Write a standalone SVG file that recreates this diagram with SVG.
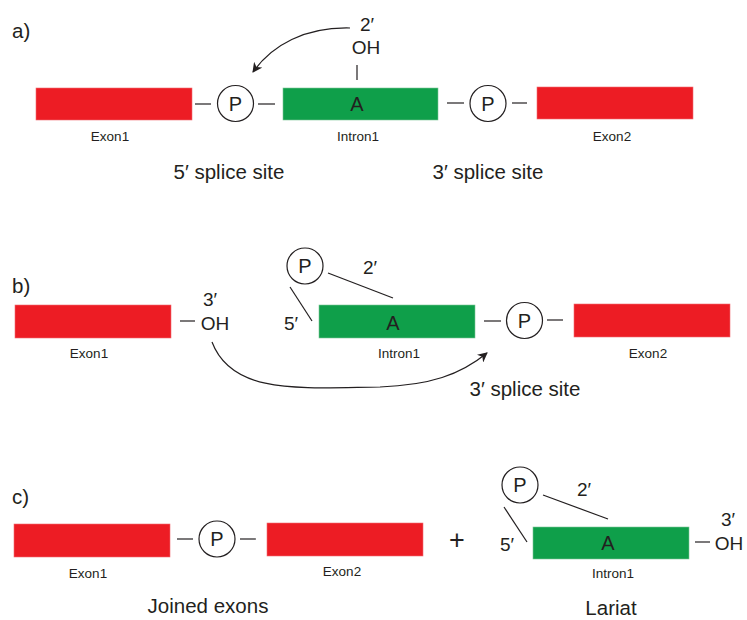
<svg xmlns="http://www.w3.org/2000/svg" width="747" height="620" viewBox="0 0 747 620">
<defs>
<style>
.exon{fill:#ED1C24;stroke:#F26D72;stroke-width:0.6}
.intron{fill:#0F9F4A;stroke:#7CC796;stroke-width:0.6}
.ln{stroke:#231F20;stroke-width:1.2;fill:none}
.pc{fill:#fff;stroke:#231F20;stroke-width:1.2}
.t{font-family:"Liberation Sans","Open Sans",sans-serif;fill:#231F20}
.big{font-size:19px}
.ph{font-size:20.5px}
.pl{font-size:20px}
.sm{font-size:13.5px}
.mid{text-anchor:middle}
</style>
<marker id="ah" viewBox="0 0 10 10" refX="9" refY="5" markerWidth="10" markerHeight="10" orient="auto" markerUnits="userSpaceOnUse">
<path d="M0,0 L10,5 L0,10 L3,5 Z" fill="#231F20"/>
</marker>
</defs>

<!-- Panel a -->
<text class="t ph" x="12" y="38">a)</text>
<g id="a-exon1"><rect class="exon" x="36" y="88" width="156" height="32"/><text class="t sm mid" x="110" y="141">Exon1</text></g>
<g id="a-p1"><circle class="pc" cx="235.5" cy="103.5" r="18"/><text class="t pl mid" x="235.5" y="110.5">P</text></g>
<g id="a-intron1"><rect class="intron" x="283" y="88" width="155" height="32"/><text class="t pl mid" x="357" y="111">A</text><text class="t sm mid" x="358" y="141">Intron1</text></g>
<g id="a-oh"><text class="t big mid" x="367" y="31">2′</text><text class="t big mid" x="366" y="54">OH</text></g>
<g id="a-p2"><circle class="pc" cx="488" cy="103.5" r="18"/><text class="t pl mid" x="488" y="110.5">P</text></g>
<g id="a-exon2"><rect class="exon" x="537" y="87" width="156" height="32"/><text class="t sm mid" x="612" y="141">Exon2</text></g>
<text class="t ph mid" x="229" y="179">5′ splice site</text>
<text class="t ph mid" x="488" y="179">3′ splice site</text>

<!-- Panel b -->
<text class="t ph" x="12" y="293">b)</text>
<g id="b-exon1"><rect class="exon" x="15" y="305" width="156" height="33"/><text class="t sm mid" x="89" y="358">Exon1</text></g>
<g id="b-oh"><text class="t big mid" x="210" y="306">3′</text><text class="t big mid" x="215" y="330">OH</text></g>
<g id="b-p1"><circle class="pc" cx="305" cy="266" r="18"/><text class="t pl mid" x="305" y="273">P</text></g>
<text class="t big mid" x="370" y="274">2′</text>
<text class="t big mid" x="291" y="330">5′</text>
<g id="b-intron1"><rect class="intron" x="319" y="305" width="156" height="33"/><text class="t pl mid" x="393" y="330">A</text><text class="t sm mid" x="399" y="358">Intron1</text></g>
<g id="b-p2"><circle class="pc" cx="524.5" cy="320.5" r="18"/><text class="t pl mid" x="524.5" y="327.5">P</text></g>
<g id="b-exon2"><rect class="exon" x="574" y="304" width="156" height="33"/><text class="t sm mid" x="648" y="358">Exon2</text></g>
<text class="t ph mid" x="525" y="396">3′ splice site</text>

<!-- Panel c -->
<text class="t ph" x="12" y="504">c)</text>
<g id="c-exon1"><rect class="exon" x="14" y="524" width="156" height="33"/><text class="t sm mid" x="88" y="578">Exon1</text></g>
<g id="c-p"><circle class="pc" cx="217" cy="539" r="18"/><text class="t pl mid" x="217" y="546">P</text></g>
<g id="c-exon2"><rect class="exon" x="267" y="523" width="156" height="33"/><text class="t sm mid" x="342" y="576">Exon2</text></g>
<text class="t ph mid" x="208" y="613">Joined exons</text>
<text class="t mid" x="457" y="549" style="font-size:27px">+</text>
<g id="c-p2"><circle class="pc" cx="520" cy="485" r="18"/><text class="t pl mid" x="520" y="492">P</text></g>
<text class="t big mid" x="584" y="496">2′</text>
<text class="t big mid" x="507" y="551">5′</text>
<g id="c-intron1"><rect class="intron" x="533" y="527" width="156" height="32"/><text class="t pl mid" x="608" y="550">A</text><text class="t sm mid" x="613" y="578">Intron1</text></g>
<g id="c-oh"><text class="t big mid" x="728" y="526">3′</text><text class="t big mid" x="729" y="550">OH</text></g>
<text class="t ph mid" x="611" y="615">Lariat</text>

<!-- Connectors -->
<g id="connectors">
<line class="ln" x1="195" y1="104" x2="211" y2="104"/>
<line class="ln" x1="258" y1="104" x2="275" y2="104"/>
<line class="ln" x1="357" y1="65" x2="357" y2="80"/>
<line class="ln" x1="447" y1="103" x2="464" y2="103"/>
<line class="ln" x1="512" y1="103" x2="527" y2="103"/>
<path class="ln" d="M350,28 C305,27 272,45 253,72" marker-end="url(#ah)"/>

<line class="ln" x1="180" y1="321" x2="195" y2="321"/>
<line class="ln" x1="290" y1="287" x2="312" y2="321"/>
<line class="ln" x1="328" y1="273" x2="393" y2="298"/>
<line class="ln" x1="484" y1="321" x2="501" y2="321"/>
<line class="ln" x1="547" y1="320" x2="563" y2="320"/>
<path class="ln" d="M212,342 C232,395 300,388 380,387 C430,385 460,375 487,353" marker-end="url(#ah)"/>

<line class="ln" x1="177" y1="539" x2="193" y2="539"/>
<line class="ln" x1="240" y1="539" x2="256" y2="539"/>
<line class="ln" x1="543" y1="495" x2="608" y2="519"/>
<line class="ln" x1="504" y1="507" x2="527" y2="542"/>
<line class="ln" x1="695" y1="542" x2="710" y2="542"/>
</g>
</svg>
